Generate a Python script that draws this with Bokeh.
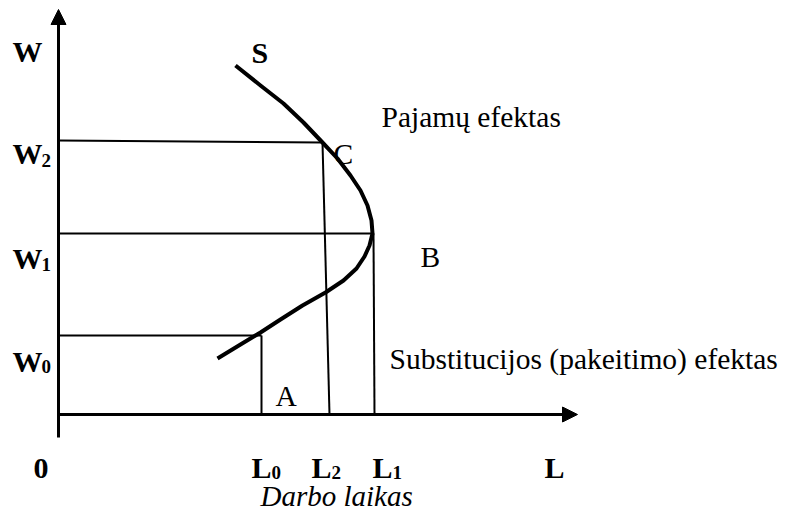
from bokeh.plotting import figure
from bokeh.models import Range1d, Arrow, NormalHead
from bokeh.core.properties import value
from bokeh.embed import file_html
from bokeh.resources import INLINE

# Diagram coordinates (x: labour time, y: wage level; y measured downwards as in the picture)
# Supply curve S (backward bending)
curve_x = [235, 260, 283, 303, 322, 337, 350, 360, 367, 371, 372, 369, 364, 356, 343, 325, 302, 280, 260, 240, 217]
curve_y = [65, 85, 103, 122, 142, 158, 175, 190, 205, 220, 233, 245, 256, 268, 280, 292, 305, 319, 332, 344, 358]

# Wage levels W0, W1, W2 and labour levels L0, L1, L2
wage_y_left = [335, 233, 140]
wage_y_right = [335, 233, 142]
labour_x_top = [261, 373, 322]
labour_x_bottom = [261, 374, 329]

# Axes origin and ends
origin_x, origin_y = 58, 414
y_axis_bottom, y_axis_top = 437, 9
x_axis_right = 577

# Labels (anchor points of the texts)
bold_text = ["W", "S", "W", "W", "W", "0", "L", "L", "L", "L"]
bold_x = [12, 251, 12, 12, 12, 33, 251, 311, 372, 544]
bold_y = [51, 52, 153, 258, 361, 468, 467, 467, 467, 467]

sub_text = ["2", "1", "0", "0", "2", "1"]
sub_x = [41, 41, 41, 271, 331, 392]
sub_y = [160, 264, 366, 472, 472, 472]

plain_text = ["C", "Pajamų efektas", "B", "Substitucijos (pakeitimo) efektas", "A"]
plain_x = [333, 381, 420, 389, 275]
plain_y = [153, 116, 256, 358, 395]

italic_text = ["Darbo laikas"]
italic_x = [260]
italic_y = [495]

p = figure(width=787, height=511, output_backend="svg", toolbar_location=None,
           x_range=Range1d(0, 787), y_range=Range1d(511, 0),
           min_border=0)
p.axis.visible = False
p.grid.visible = False
p.outline_line_color = None
p.background_fill_color = "white"
p.border_fill_color = "white"

# guide lines
for yl, yr, xt, xb in zip(wage_y_left, wage_y_right, labour_x_top, labour_x_bottom):
    p.line([origin_x, xt], [yl, yr], line_color="black", line_width=2)
    p.line([xt, xb], [yr, origin_y], line_color="black", line_width=2)

# axes with arrows
p.add_layout(Arrow(end=NormalHead(size=15, fill_color="black", line_color="black"),
                   x_start=origin_x, y_start=y_axis_bottom, x_end=origin_x, y_end=y_axis_top,
                   line_width=3, line_color="black"))
p.add_layout(Arrow(end=NormalHead(size=15, fill_color="black", line_color="black"),
                   x_start=origin_x, y_start=origin_y, x_end=x_axis_right, y_end=origin_y,
                   line_width=3, line_color="black"))

# supply curve
p.line(curve_x, curve_y, line_color="black", line_width=4, line_join="round")

font = value("Liberation Serif")
p.text(bold_x, bold_y, text=bold_text, text_font=font, text_font_size="30px",
       text_font_style="bold", text_baseline="alphabetic", text_align="left", text_color="black")
p.text(sub_x, sub_y, text=sub_text, text_font=font, text_font_size="19px",
       text_font_style="bold", text_baseline="alphabetic", text_align="left", text_color="black")
p.text(plain_x, plain_y, text=plain_text, text_font=font, text_font_size="29.5px",
       text_font_style="normal", text_baseline="alphabetic", text_align="left", text_color="black")
p.text(italic_x, italic_y, text=italic_text, text_font=font, text_font_size="29px",
       text_font_style="italic", text_baseline="alphabetic", text_align="left", text_color="black")

open("out.html", "w").write(file_html(p, INLINE))
